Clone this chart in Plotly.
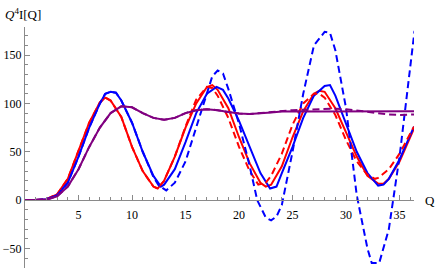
import plotly.graph_objects as go

# ---- data ----
red_q = [0, 1, 2, 3, 4, 5, 6, 7, 7.5, 8, 9, 10, 11, 12, 12.4, 13, 14, 15, 16, 17, 17.5, 18, 19, 20, 21, 22, 22.5, 23, 24, 25, 26, 27, 27.5, 28, 29, 30, 31, 32, 33, 33.5, 34, 35, 36, 36.35]
red_v = [0, 0, 1, 6, 22, 52, 80, 101, 106, 103, 86, 55, 30, 14, 12, 20, 45, 75, 100, 117, 119, 114, 95, 65, 38, 18, 14, 16, 35, 65, 92, 110, 113, 112, 95, 70, 45, 25, 17, 17, 22, 40, 66, 74]

red_d_q = [0, 1, 2, 3, 4, 5, 6, 7, 7.5, 8, 9, 10, 11, 12, 12.4, 13, 14, 15, 16, 17, 17.5, 18, 19, 20, 21, 21.8, 22.5, 23, 24, 25, 26, 27, 27.5, 28, 29, 30, 31, 32, 32.7, 33, 34, 35, 36, 36.35]
red_d_v = [0, 0, 1, 6, 22, 52, 80, 101, 106, 103, 86, 55, 30, 14, 12, 20, 45, 76, 104, 117, 116, 108, 85, 55, 30, 16, 18, 25, 48, 78, 100, 110, 110, 106, 88, 62, 40, 26, 22, 23, 32, 48, 68, 76]

blue_q = [0, 1, 2, 3, 4, 5, 6, 7, 7.5, 8, 8.5, 9, 10, 11, 12, 12.7, 13, 14, 15, 16, 17, 17.9, 18.5, 19, 20, 21, 22, 22.9, 23.5, 24, 25, 26, 27, 28, 28.5, 29, 30, 31, 32, 33, 33.5, 34, 35, 36, 36.35]
blue_v = [0, 0, 1, 5, 18, 45, 75, 100, 110, 112, 111, 103, 80, 50, 25, 14, 16, 32, 60, 90, 110, 117, 114, 105, 82, 55, 28, 12, 14, 28, 55, 85, 108, 118, 119, 108, 80, 50, 28, 15, 16, 22, 42, 68, 76]

blue_d_q = [0, 1, 2, 3, 4, 5, 6, 7, 7.5, 8, 8.5, 9, 10, 11, 12, 12.5, 13.2, 14, 15, 16, 17, 17.5, 18, 18.5, 19, 20, 21, 21.7, 22.5, 23, 23.5, 24, 25, 26, 27, 28, 28.5, 29, 30, 31, 32, 32.4, 33.1, 34, 35, 36, 36.4]
blue_d_v = [0, 0, 1, 5, 18, 45, 75, 100, 110, 112, 111, 103, 80, 50, 24, 15, 10, 18, 40, 75, 112, 128, 134, 131, 115, 79, 35, 0, -18, -21, -17, -5, 50, 110, 160, 174, 173, 155, 95, 5, -50, -65, -65, -30, 45, 136, 175]

purple_q = [0, 1, 2, 3, 4, 5, 6, 7, 8, 9, 10, 11, 12, 13, 14, 15, 16, 17, 18, 19, 20, 21, 22, 23, 24, 25, 26, 27, 28, 29, 30, 31, 32, 33, 34, 35, 36, 36.35]
purple_v = [0, 0, 0.5, 4, 14, 32, 55, 75, 90, 97, 96, 90, 85, 83, 85, 90, 93, 94, 93, 91, 89.5, 89, 89.5, 90.5, 91.5, 92, 92, 91.5, 91.5, 91.5, 91.5, 92, 92, 92, 92, 92, 92, 92]

purple_d_q = purple_q
purple_d_v = [0, 0, 0.5, 4, 14, 32, 55, 75, 90, 97, 96, 90, 85, 83, 85, 90, 93, 94, 93, 91, 89.5, 89, 90, 91.5, 92.5, 93, 93.5, 94, 94.5, 94.5, 94, 92.5, 91, 89.5, 88.5, 88, 88.5, 88.5]

x_ticks = [5, 10, 15, 20, 25, 30, 35]
x_minor = [q for q in range(1, 37) if q % 5 != 0]
y_ticks = [-50, 0, 50, 100, 150]
y_tick_text = ["\u221250", "0", "50", "100", "150"]
y_minor = [v for v in range(-70, 180, 10) if v % 50 != 0]

X_RANGE = [0, 36.35]
Y_RANGE = [-70.2, 179]

fig = go.Figure()
DASH = "7px,4px"
series = [
    (red_q, red_v, "#ff0000", "solid"),
    (blue_q, blue_v, "#0000ff", "solid"),
    (red_d_q, red_d_v, "#ff0000", DASH),
    (blue_d_q, blue_d_v, "#0000ff", DASH),
    (purple_d_q, purple_d_v, "#800080", DASH),
    (purple_q, purple_v, "#800080", "solid"),
]
for q, v, c, d in series:
    fig.add_trace(go.Scatter(x=q, y=v, mode="lines",
                             line=dict(color=c, width=2, dash=d),
                             showlegend=False, hoverinfo="skip"))

axis_col = "#8a8a8a"
FAM = "Liberation Serif, DejaVu Serif, serif"
font = dict(family=FAM, size=12, color="black")
pos0 = (0 - Y_RANGE[0]) / (Y_RANGE[1] - Y_RANGE[0])

fig.update_layout(
    width=436, height=268,
    margin=dict(l=25, r=22, t=27, b=0, autoexpand=False),
    paper_bgcolor="white", plot_bgcolor="white",
    font=font,
    xaxis=dict(range=X_RANGE, showgrid=False, zeroline=False, automargin=False,
               showline=True, linecolor=axis_col, linewidth=1,
               anchor="free", position=pos0,
               tickmode="array", tickvals=x_ticks, ticks="inside", ticklen=5,
               tickcolor=axis_col, tickwidth=1,
               minor=dict(tickmode="array", tickvals=x_minor, ticks="inside",
                          ticklen=3, tickcolor=axis_col, tickwidth=1, showgrid=False),
               ticklabelstandoff=3,
               tickfont=font),
    yaxis=dict(range=Y_RANGE, showgrid=False, zeroline=False, automargin=False,
               showline=True, linecolor=axis_col, linewidth=1,
               tickmode="array", tickvals=y_ticks, ticktext=y_tick_text,
               ticks="inside", ticklen=5, tickcolor=axis_col, tickwidth=1,
               minor=dict(tickmode="array", tickvals=y_minor, ticks="inside",
                          ticklen=3, tickcolor=axis_col, tickwidth=1, showgrid=False),
               tickfont=font),
    annotations=[
        dict(text="<i>Q</i><sup>4</sup>I[Q]", xref="paper", yref="paper",
             x=-0.005, y=1.0, xanchor="center", yanchor="bottom", yshift=3,
             showarrow=False, font=dict(family=FAM, size=13, color="black")),
        dict(text="Q", xref="paper", yref="paper",
             x=1.0, y=pos0, xanchor="left", yanchor="middle", xshift=9,
             showarrow=False, font=dict(family=FAM, size=13, color="black")),
    ],
)

fig.write_html("out.html", config={"displayModeBar": False},
               post_script="document.body.style.margin='0';document.body.style.padding='0';")
